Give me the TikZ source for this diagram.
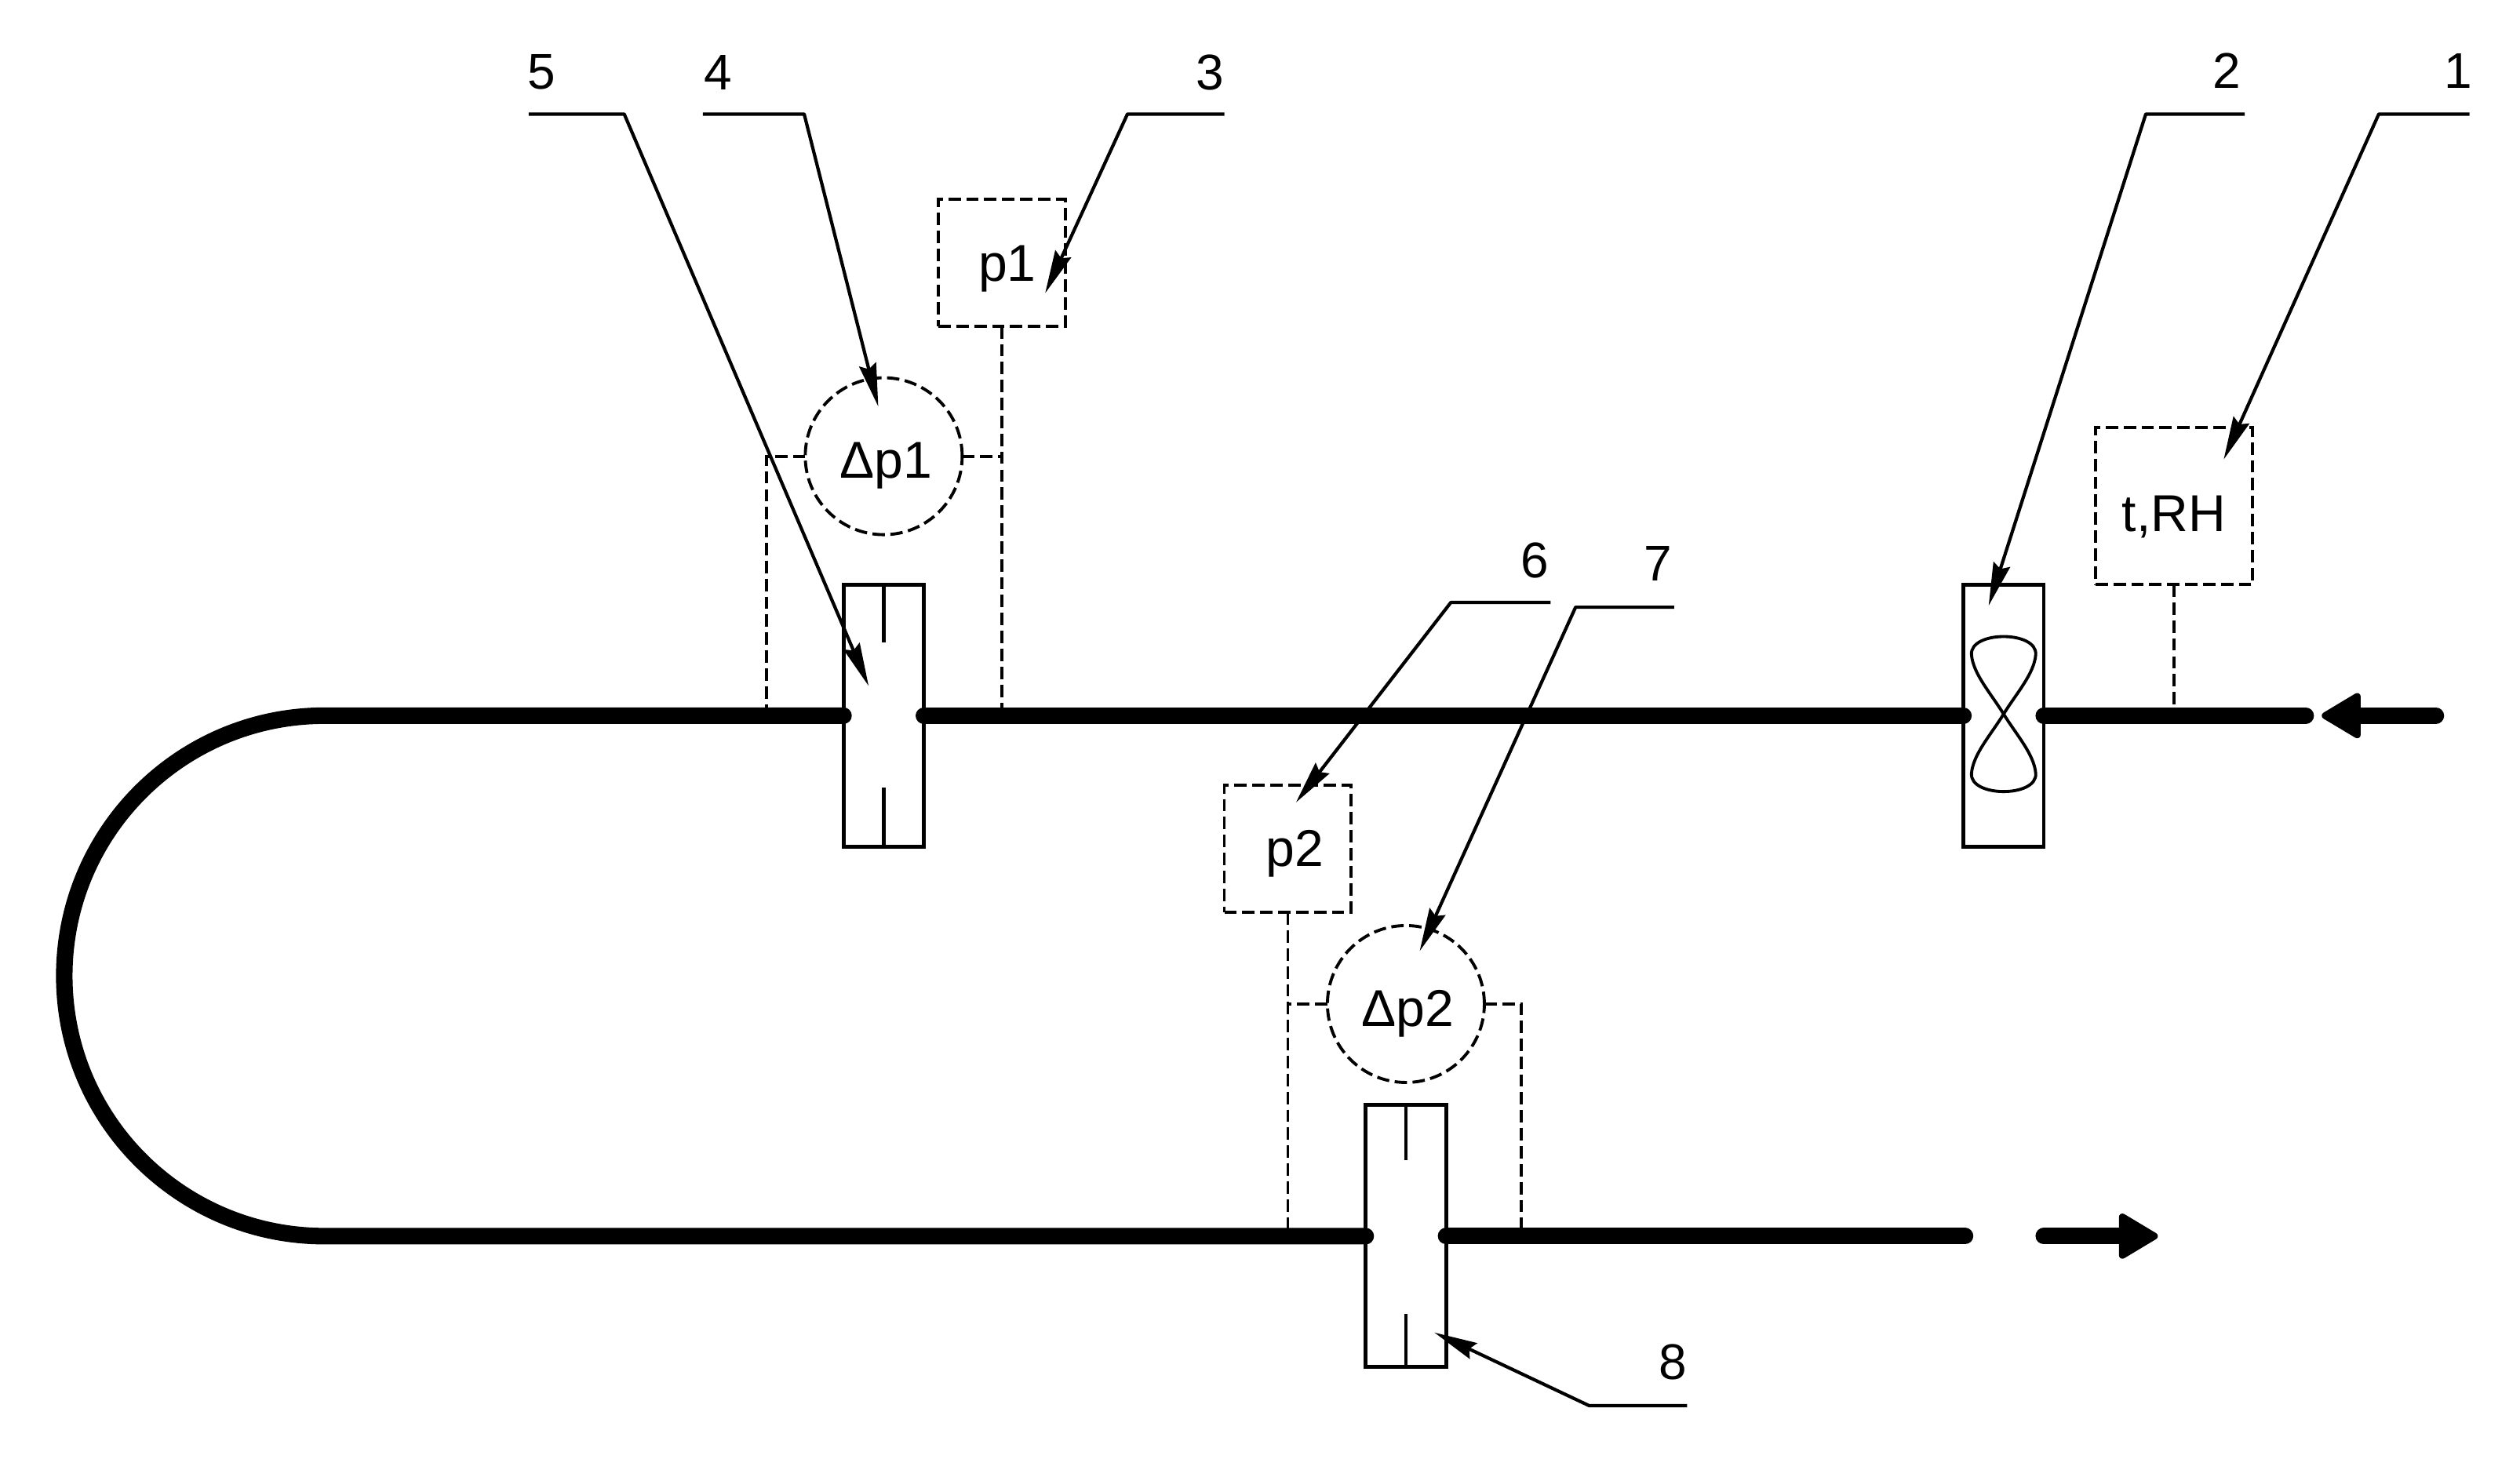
\documentclass[tikz,border=0pt]{standalone}
\usepackage{fontspec}
\setmainfont{Liberation Sans}
\usetikzlibrary{arrows.meta,calc}
\tikzset{
 pipe/.style={line width=6pt,line cap=round},
 flow/.style={pipe,-{Triangle[round,length=5.4mm,width=6.2mm,line width=2.5pt]}},
 unit/.style={draw,line width=1.4pt,inner sep=0pt,outer sep=0pt,minimum width=1.024cm,minimum height=3.34cm},
 sensor/.style={draw,line width=1.1pt,dash pattern=on 4.5pt off 2pt,inner sep=0pt,outer sep=0pt},
 signal/.style={line width=1.1pt,dash pattern=on 4.5pt off 2pt},
 leader/.style={line width=1.2pt,line join=round,-{Stealth[length=5.5mm,width=2.2mm,inset=.6mm]}},
 tag/.style={inner sep=0pt,font=\fontsize{18.2}{20}\selectfont},
 reading/.style={font=\fontsize{18.8}{20}\selectfont}
}
\begin{document}
\begin{tikzpicture}[x=0.02048cm,y=-0.02048cm,font=\fontsize{18.2}{20}\selectfont]
 \useasboundingbox (0,0) rectangle (1568.4,908.2);

 \node[unit] (damper1) at (550,445.5) {};
 \node[unit] (fan) at (1247,445.5) {};
 \node[unit] (damper2) at (875,769.5) {};

 \node[sensor,reading,minimum width=1.618cm,minimum height=1.618cm] (p1) at (623.5,163.5) {\hspace*{1.4mm}\raisebox{-0.8mm}[\height][\depth]{p1}};
 \node[sensor,reading,minimum width=2cm,minimum height=2cm] (trh) at (1353,315) {\raisebox{-1.4mm}[\height][\depth]{t,RH}};
 \node[sensor,reading,minimum width=1.618cm,minimum height=1.618cm] (p2) at (801.5,528.5) {\hspace*{1.8mm}\raisebox{-0.6mm}[\height][\depth]{p2}};
 \node[sensor,reading,circle,minimum size=2cm] (dp1) at (550,284) {\hspace*{0.6mm}\raisebox{-1.2mm}[\height][\depth]{Δp1}};
 \node[sensor,reading,circle,minimum size=2cm] (dp2) at (875,625) {\hspace*{0.4mm}\raisebox{-1.2mm}[\height][\depth]{Δp2}};

 \coordinate (bendtop) at (202,445.5);
 \coordinate (inletend) at (1435,445.5);
 \coordinate (inlet) at (1516,445.5);
 \coordinate (inlettip) at (1445,445.5);
 \coordinate (outletend) at (1223,769.5);
 \coordinate (outletgap) at (1272,769.5);
 \coordinate (outlettip) at (1343,769.5);
 \coordinate (tap1) at (477,445.5);
 \coordinate (tap2) at (947,769.5);

 \draw[pipe] (damper1.west) -- (bendtop) arc[start angle=-90,end angle=-270,radius=162] -- (damper2.west);
 \draw[pipe] (damper1.east) -- (fan.west);
 \draw[pipe] (fan.east) -- (inletend);
 \draw[pipe] (damper2.east) -- (outletend);
 \draw[flow] (inlet) -- (inlettip);
 \draw[flow] (outletgap) -- (outlettip);

 \draw[signal] (dp1.west) -- (dp1.west -| tap1) -- (tap1);
 \draw[signal] (dp1.east) -- (dp1.east -| p1.south);
 \draw[signal] (p1.south) -- (p1.south |- damper1);
 \draw[signal] (trh.south) -- (trh.south |- fan);
 \draw[signal] (p2.south) -- (p2.south |- damper2);
 \draw[signal] (dp2.west) -- (dp2.west -| p2.south);
 \draw[signal] (dp2.east) -- (dp2.east -| tap2) -- (tap2);

 \draw[line width=1.4pt] (damper1.north) -- ++(0,36);
 \draw[line width=1.4pt] (damper1.south) -- ++(0,-37);
 \draw[line width=1.4pt] (damper2.north) -- ++(0,34);
 \draw[line width=1.4pt] (damper2.south) -- ++(0,-33);
 \draw[line width=1.1pt,shift={(fan.center)}] (0,-1) .. controls (-8,-14) and (-19,-26) .. (-20,-38) .. controls (-21,-53) and (21,-53) .. (20,-38) .. controls (19,-26) and (8,-14) .. (0,-1) .. controls (-8,12) and (-19,24) .. (-20,36) .. controls (-21,51) and (21,51) .. (20,36) .. controls (19,24) and (8,12) .. (0,-1);

 \node[tag] (tag1) at (1530,44) {1};
 \node[tag] (tag2) at (1386,44) {2};
 \node[tag] (tag3) at (753,45) {3};
 \node[tag] (tag4) at (447,45) {4};
 \node[tag] (tag5) at (337,45) {5};
 \node[tag] (tag6) at (955,349) {6};
 \node[tag] (tag7) at (1032,351) {7};
 \node[tag] (tag8) at (1041,848) {8};

 \coordinate (end1) at (1537,71);
 \coordinate (kink1) at (1480.5,71);
 \coordinate (tip1) at (1384,286);
 \coordinate (end2) at (1397,71);
 \coordinate (kink2) at (1335.5,71);
 \coordinate (tip2) at (1237.7,377);
 \coordinate (end3) at (762,71);
 \coordinate (kink3) at (701.7,71);
 \coordinate (tip3) at (650.5,182.5);
 \coordinate (end4) at (437.5,71);
 \coordinate (kink4) at (500.5,71);
 \coordinate (tip4) at (546.6,253);
 \coordinate (end5) at (329,71);
 \coordinate (kink5) at (388.5,71);
 \coordinate (tip5) at (540.6,427);
 \coordinate (end6) at (965,375);
 \coordinate (kink6) at (903,375);
 \coordinate (tip6) at (806.6,499.5);
 \coordinate (end7) at (1042,378);
 \coordinate (kink7) at (980.6,378);
 \coordinate (tip7) at (883.6,592);
 \coordinate (end8) at (1050,875);
 \coordinate (kink8) at (989,875);
 \coordinate (tip8) at (892.7,829.5);

 \draw[leader] (end1) -- (kink1) -- (tip1);
 \draw[leader] (end2) -- (kink2) -- (tip2);
 \draw[leader] (end3) -- (kink3) -- (tip3);
 \draw[leader] (end4) -- (kink4) -- (tip4);
 \draw[leader] (end5) -- (kink5) -- (tip5);
 \draw[leader] (end6) -- (kink6) -- (tip6);
 \draw[leader] (end7) -- (kink7) -- (tip7);
 \draw[leader] (end8) -- (kink8) -- (tip8);
\end{tikzpicture}
\end{document}
